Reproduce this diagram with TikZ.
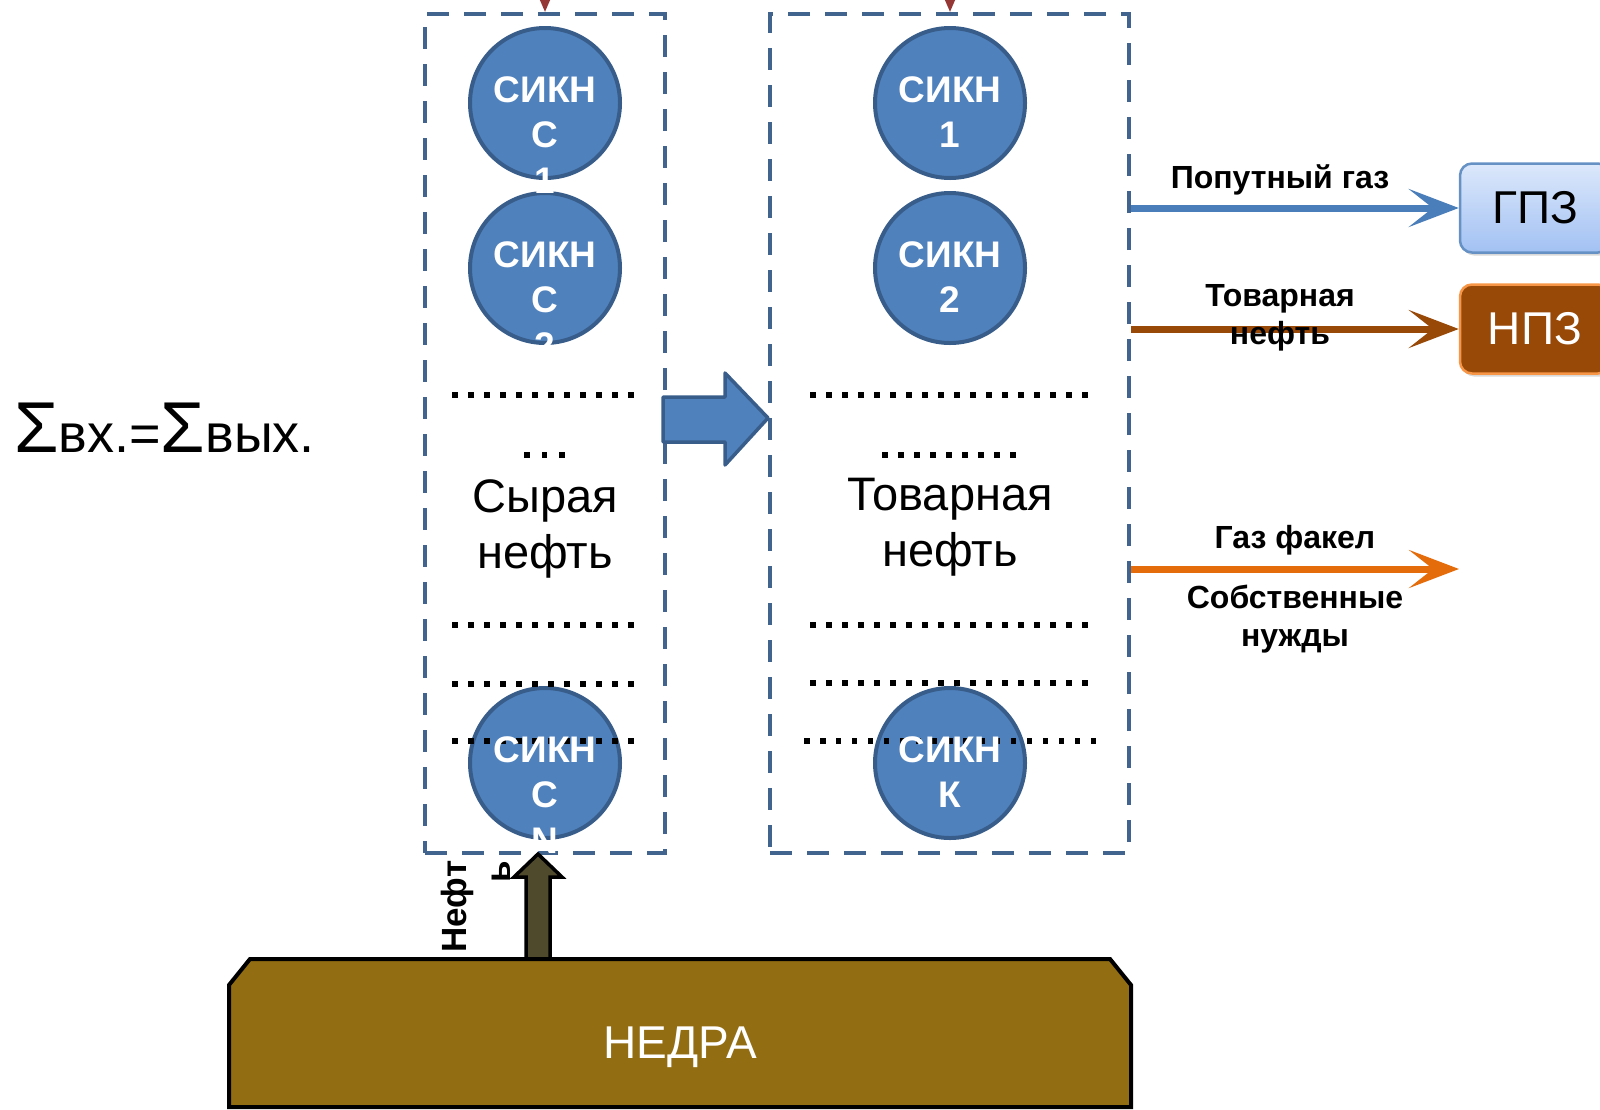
\documentclass[tikz,border=0pt]{standalone}
\usepackage{fontspec}
\setmainfont{Liberation Sans}
\usetikzlibrary{arrows.meta,shadows}
\definecolor{cfill}{HTML}{4F81BD}
\definecolor{cedge}{HTML}{385D8A}
\definecolor{dashc}{HTML}{41648F}
\definecolor{gasblue}{HTML}{4A7EBB}
\definecolor{oilbrown}{HTML}{984807}
\definecolor{flareorange}{HTML}{E46C0A}
\definecolor{nedrac}{HTML}{936D11}
\definecolor{upfill}{HTML}{4F4A2B}
\definecolor{tipred}{HTML}{953735}
\definecolor{gpztop}{HTML}{DCE8FB}
\definecolor{gpzbot}{HTML}{A2C1F3}
\definecolor{npzedge}{HTML}{F79646}
\newcommand\dotrow[4]{%
  \foreach \k in {0,...,#3}{\fill ({#1+#4*\k-2.6},{#2-2.6}) rectangle ++(5.2,5.2);}}
\begin{document}
\begin{tikzpicture}[x=1pt,y=-1pt,
  sikn/.style={circle, fill=cfill, draw=cedge, line width=4pt, minimum size=150pt, inner sep=0pt},
  sikntext/.style={text=white, font=\bfseries\fontsize{37}{45.5}\selectfont, align=center, inner sep=0pt, anchor=north, yshift=27pt},
  dbox/.style={draw=dashc, line width=4pt, dash pattern=on 22pt off 15pt, inner sep=0pt},
  bigtxt/.style={font=\fontsize{47}{56}\selectfont, align=center, inner sep=0pt, anchor=north},
  lbl/.style={font=\bfseries\fontsize{32}{38}\selectfont, align=center, inner sep=0pt},
  flow/.style={line width=7pt, -{Stealth[length=50pt,width=38pt,inset=24pt]}},
  plant/.style={rounded corners=12pt, minimum width=150pt, minimum height=89pt, line width=2.5pt, font=\fontsize{46}{46}\selectfont, drop shadow={shadow xshift=2pt, shadow yshift=-3pt, opacity=0.3}},
  intip/.style={draw=tipred, line width=3pt, -{Triangle[length=22pt,width=18pt]}}
]
\useasboundingbox (0,0) rectangle (1600,1109);

% balance equation
\node[anchor=base west, inner sep=0pt] (balance) at (14,452) {\fontsize{72}{72}\selectfont Σ\fontsize{54}{54}\selectfont вх.=\fontsize{72}{72}\selectfont Σ\fontsize{54}{54}\selectfont вых.};

% dashed boxes
\node[dbox, minimum width=240pt, minimum height=839pt] (lbox) at (545,433.5) {};
\node[dbox, minimum width=359pt, minimum height=839pt] (rbox) at (949.5,433.5) {};

% circles
\node[sikn] (l1) at (545,103) {};
\node[sikn] (l2) at (545,268) {};
\node[sikn] (ln) at (545,763) {};
\node[sikn] (r1) at (950,103) {};
\node[sikn] (r2) at (950,268) {};
\node[sikn] (rk) at (950,763) {};

% dotted rows
\dotrow{455}{395}{11}{16}
\dotrow{455}{625}{11}{16}
\dotrow{455}{684}{11}{16}
\dotrow{455}{741}{11}{16}
\dotrow{527}{455}{2}{17.5}
\dotrow{813}{395}{17}{16}
\dotrow{813}{625}{17}{16}
\dotrow{813}{683}{17}{16}
\dotrow{807}{741}{18}{15.9}
\dotrow{885}{455}{8}{16}

% circle texts
\node[sikntext] (l1t) at (l1.center) {СИКН\\С\\1};
\node[sikntext] (l2t) at (l2.center) {СИКН\\С\\2};
\node[sikntext] (lnt) at (ln.center) {СИКН\\С\\N};
\node[sikntext] (r1t) at (r1.center) {СИКН\\1};
\node[sikntext] (r2t) at (r2.center) {СИКН\\2};
\node[sikntext] (rkt) at (rk.center) {СИКН\\К};

% column texts
\node[bigtxt] (crude) at (545,479) {Сырая\\нефть};
\node[bigtxt] (sales) at (950,478) {Товарная\\нефть};

% big block arrow between columns
\draw[fill=cfill, draw=cedge, line width=3.5pt, line join=round]
  (663,397) -- (725,397) -- (725,373) -- (768,418) -- (725,465) -- (725,442) -- (663,442) -- cycle;

% plants
\node[plant, draw=gasblue!85, top color=gpztop, bottom color=gpzbot] (gpz) at (1535,208) {ГПЗ};
\node[plant, draw=npzedge, fill=oilbrown, text=white] (npz) at (1535,329) {НПЗ};

% output flows
\coordinate (flare) at (1459,569);
\draw[flow, gasblue] (rbox.east |- gpz.west) -- (gpz.west);
\draw[flow, oilbrown] (rbox.east |- npz.west) -- (npz.west);
\draw[flow, flareorange] (rbox.east |- flare) -- (flare);

% flow labels
\node[lbl, anchor=base] (lgas) at (1280,188) {Попутный газ};
\node[lbl, anchor=north] (loil) at (1280,284) {Товарная\\нефть};
\node[lbl, anchor=base] (lflare) at (1295,548) {Газ факел};
\node[lbl, anchor=north] (lown) at (1295,585) {Собственные\\нужды};

% incoming tips at the top
\coordinate (inl) at (545,-60);
\coordinate (inr) at (950,-60);
\draw[intip] (inl) -- (inl |- lbox.north);
\draw[intip] (inr) -- (inr |- rbox.north);

% up arrow from subsoil
\draw[fill=upfill, line width=3.5pt, line join=miter]
  (526,960) -- (526,877) -- (514,877) -- (538,854) -- (562,877) -- (550,877) -- (550,960) -- cycle;

% subsoil
\draw[fill=nedrac, line width=4pt, line join=miter]
  (229,985) -- (250,959) -- (1110,959) -- (1131,985) -- (1131,1107) -- (229,1107) -- cycle;
\node[text=white, font=\fontsize{46}{46}\selectfont, anchor=base, inner sep=0pt] (nedra) at (680,1058) {НЕДРА};

% rotated label
\node[rotate=90, anchor=north west, align=right, inner sep=0pt, font=\bfseries\fontsize{35}{44}\selectfont] (neftlbl) at (441,953) {Нефт\\ь};
\end{tikzpicture}
\end{document}
